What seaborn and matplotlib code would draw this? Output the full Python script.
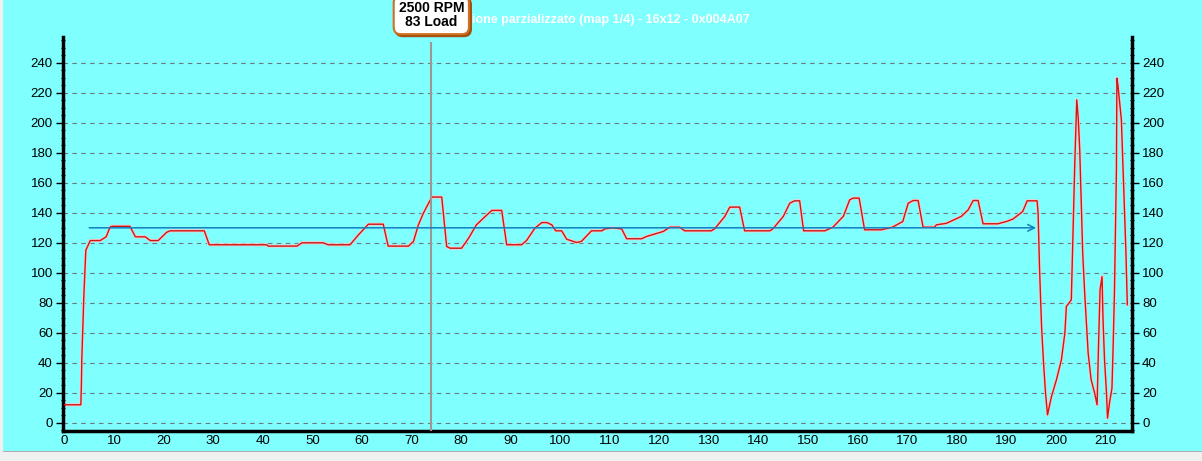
import numpy as np
import pandas as pd
import seaborn as sns
from matplotlib import pyplot as plt
from matplotlib.patches import Rectangle
from matplotlib.ticker import MultipleLocator
from matplotlib.transforms import blended_transform_factory, offset_copy

plt.rcParams['font.family'] = ['Liberation Sans', 'DejaVu Sans']

# red trace (map cell position vs value)
pos = [0, 3.3, 3.4, 3.5, 3.7, 3.9, 4.1, 4.3, 5.2, 7.2, 8.4, 9.2, 9.6, 13.2, 14.3, 16.3,
       17.3, 18.9, 20.6, 21.3, 28.2, 29.2, 40.8, 41.1, 46.9, 47.9, 52.2, 53.2, 57.6,
       59.3, 61.0, 61.3, 64.3, 65.3, 69.4, 70.4, 71.4, 72.4, 74.1, 76.1, 77.1, 77.8,
       80.1, 81.5, 83.1, 84.5, 86.2, 88.2, 89.2, 92.2, 93.2, 94.9, 96.3, 97.3, 98.3,
       99.1, 100.3, 101.3, 103.3, 104.3, 106.3, 108.4, 109.0, 110.5, 112.4, 113.4,
       116.4, 117.4, 120.8, 122.1, 124.1, 125.1, 130.5, 131.2, 133.2, 134.2, 136.2,
       137.2, 142.3, 142.9, 145.0, 146.3, 147.3, 148.3, 149.1, 153.4, 155.0, 157.1,
       158.4, 159.1, 160.3, 161.4, 164.8, 167.0, 169.1, 170.2, 171.2, 172.2, 173.2,
       175.5, 175.9, 177.9, 180.9, 182.3, 183.3, 184.3, 185.3, 188.3, 190.0, 191.3,
       192.7, 193.3, 194.2, 196.2, 196.4, 196.7, 197.1, 197.5, 197.9, 198.3, 199.1,
       200.1, 201.1, 201.8, 202.1, 203.1, 203.4, 203.8, 204.2, 204.5, 204.8, 205.1,
       205.4, 205.8, 206.5, 207.1, 207.8, 208.3, 208.6, 208.9, 209.3, 209.5, 209.8,
       210.2, 210.4, 210.8, 211.3, 211.5, 211.8, 212.2, 212.3, 212.5, 213.2, 213.6,
       214.1, 214.4]
value = [12, 12, 24, 43, 64, 84, 100, 115, 121.5, 121.5, 124, 130.5, 131, 131, 124, 124,
         121.5, 121.5, 127, 128, 128, 118.7, 118.7, 117.8, 117.8, 120, 120, 118.7, 118.7,
         125.3, 131.3, 132.4, 132.4, 117.8, 117.8, 121, 132, 139.8, 150.5, 150.5, 117.5, 116.4,
         116.4, 123, 132, 136.4, 141.6, 141.6, 118.7, 118.7, 121.5, 129.8, 133.5, 133.5, 132,
         128, 128, 122.4, 120.2, 121, 128, 128, 129.3, 130, 129.3, 122.7,
         122.7, 124.2, 127.6, 130.4, 130.4, 128, 128, 129.5, 137.6, 143.8, 143.8,
         128, 128, 129.3, 137.6, 146.4, 148, 148, 128, 128, 130.4, 137.6,
         148.7, 149.8, 149.8, 128.7, 128.7, 130.4, 134.2, 146.4, 148.2, 148.2, 130.4,
         130.4, 132, 133, 137.6, 142, 148.2, 148.2, 132.7, 132.7, 134.2, 135.8,
         139.3, 140.9, 148, 148, 139.8, 102, 64.2, 39.8, 19.8, 5.3, 17.5,
         28.7, 42, 59.8, 77.5, 82, 122, 173, 215.3, 203, 182, 146.4,
         113, 86.4, 46.4, 28.7, 19.8, 12, 53, 88.7, 97.5, 68.7, 42,
         19.8, 3.1, 13.1, 23.1, 46.4, 86.4, 168.7, 229.8, 225.3, 202, 164.2,
         115.3, 78.7]

target_value = 130
target_start = 5
target_end = 196
cursor_x = 74
cursor_top = 254
cursor_label = "2500 RPM\n83 Load"
# only the part of the title that is not covered by the cursor label
title = "ione parzializzato (map 1/4) - 16x12 - 0x004A07"
y_ticks = list(range(0, 241, 20))
x_ticks = list(range(0, 211, 10))

df = pd.DataFrame({"pos": pos, "value": value})

bg = "#80ffff"
fig = plt.figure(figsize=(12.02, 4.61), dpi=100, facecolor=bg)
ax = fig.add_axes([0.052, 0.065, 0.890, 0.854])
ax.set_facecolor(bg)

ax.set_xlim(-0.4, 215.4)
ax.set_ylim(-5.5, 257)

# dashed horizontal grid
for v in y_ticks:
    ax.axhline(v, color="#6a7a7a", lw=0.8, ls=(0, (4, 4)), zorder=1)

# red trace with pale halo
sns.lineplot(data=df, x="pos", y="value", sort=False, estimator=None, ax=ax,
             color="#ffc4c4", lw=2.2, zorder=2)
sns.lineplot(data=df, x="pos", y="value", sort=False, estimator=None, ax=ax,
             color="#c81818", lw=1.0, zorder=3)

# cursor line
ax.vlines(cursor_x, -5.5, cursor_top, color="#a09494", lw=1.5, zorder=4)

# target arrow
ax.annotate("", xy=(target_end, target_value), xytext=(target_start, target_value),
            arrowprops=dict(arrowstyle="->", color="#1080c0", lw=1.1,
                            mutation_scale=12, shrinkA=0, shrinkB=0), zorder=5)

ax.set_xlabel("")
ax.set_ylabel("")
ax.set_xticks(x_ticks)
ax.set_yticks(y_ticks)
ax.yaxis.set_minor_locator(MultipleLocator(5))
ax.tick_params(axis="x", length=0, labelsize=9.5, pad=3)
ax.tick_params(axis="y", which="major", length=5, width=1, direction="out",
               labelsize=9.5, left=True, right=True, labelleft=True, labelright=True, pad=2)
ax.tick_params(axis="y", which="minor", length=3, width=0.8, direction="inout",
               left=True, right=True)
for s in ["left", "right", "bottom"]:
    ax.spines[s].set_linewidth(2.5)
    ax.spines[s].set_color("black")
ax.spines["top"].set_visible(False)

fig.text(472 / 1202, 0.957, title, color="white", fontsize=9, fontweight="bold",
         ha="left", va="center", zorder=1)

# cursor label (x in data, y in figure coords) with a brown drop shadow
label_tr = blended_transform_factory(ax.transData, fig.transFigure)
label_y = 1 - 15 / 461
label_kw = dict(ha="center", va="center", fontsize=10, fontweight="bold",
                linespacing=1.05, clip_on=False)
ax.text(cursor_x, label_y, cursor_label, color="none", zorder=9,
        transform=offset_copy(label_tr, fig=fig, x=2, y=-2, units="dots"),
        bbox=dict(boxstyle="round,pad=0.35,rounding_size=0.5", fc="#a05010",
                  ec="#a05010", lw=1.5), **label_kw)
ax.text(cursor_x, label_y, cursor_label, color="black", zorder=10, transform=label_tr,
        bbox=dict(boxstyle="round,pad=0.35,rounding_size=0.5", fc="white",
                  ec="#d07020", lw=1.5), **label_kw)

# light window strip at the bottom and left edge
fig.patches.append(Rectangle((0, 0), 1, 9 / 461, transform=fig.transFigure,
                             facecolor="#f0f0f0", edgecolor="none", zorder=0))
fig.patches.append(Rectangle((0, 9 / 461), 1, 1.5 / 461, transform=fig.transFigure,
                             facecolor="#b0b0b0", edgecolor="none", zorder=0))
fig.patches.append(Rectangle((0, 0), 3 / 1202, 1, transform=fig.transFigure,
                             facecolor="#f0f0f0", edgecolor="none", zorder=0))

fig.savefig("out.png", dpi=100, facecolor=bg)
